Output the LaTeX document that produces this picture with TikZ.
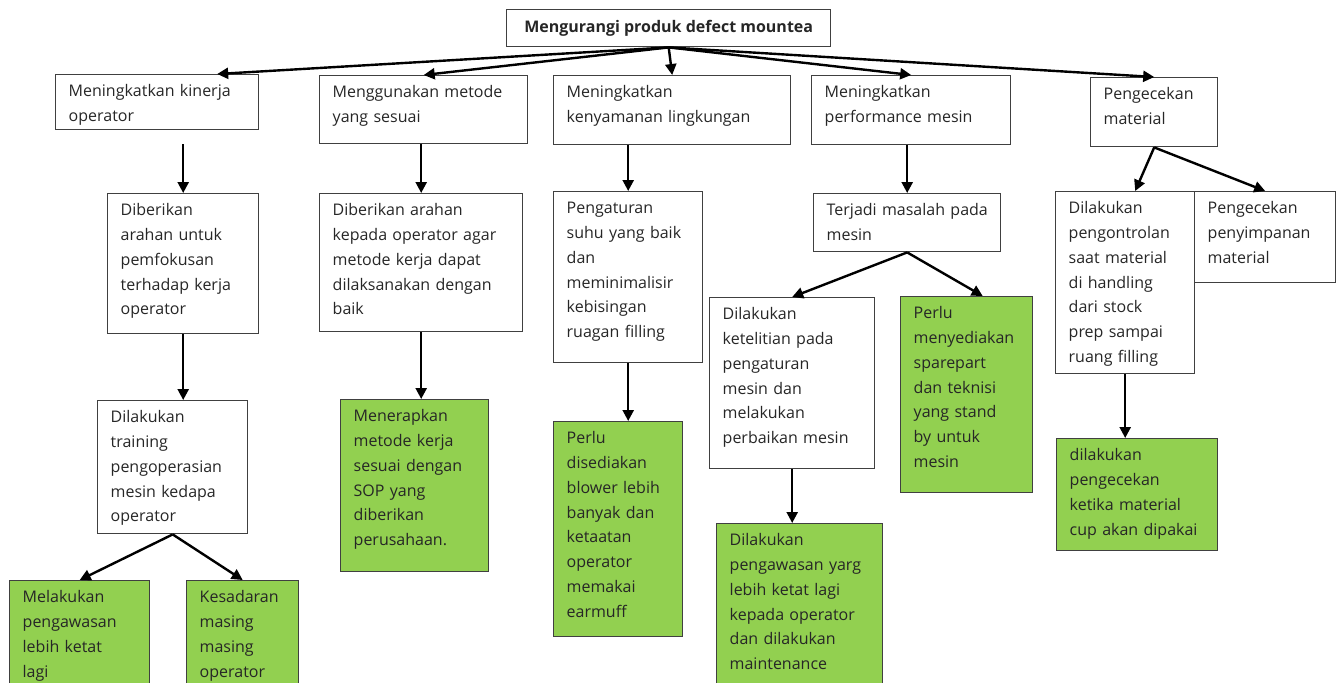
\documentclass[tikz,border=0pt]{standalone}
\usepackage{fontspec}
\setmainfont{Open Sans}
\usetikzlibrary{arrows.meta}
\definecolor{hijauexcel}{RGB}{146,208,80}

\begin{document}
\begin{tikzpicture}[
        x=0.5pt, y=-0.5pt,
        kotak/.style 2 args={draw=black!75, line width=0.7pt, anchor=north west, align=left,
            inner xsep=6.5pt, inner ysep=0pt, text height=11pt,
            text width=#1, text depth=#2, text=black!85,
            font=\fontsize{8pt}{12.4pt}\selectfont},
        hijau/.style={fill=hijauexcel},
        panah/.style={-{Triangle[length=5.5pt, width=5.5pt]}, line width=1.2pt}
    ]
        \useasboundingbox (0,0) rectangle (1340,682);
        \clip (0,0) rectangle (1340,682);

        % Tujuan utama
        \node[draw=black!75, line width=0.7pt, anchor=north west, minimum width=162pt,
            minimum height=18.5pt, inner sep=0pt, text=black!85,
            font=\bfseries\fontsize{8pt}{10pt}\selectfont] (root) at (506,9)
            {Mengurangi produk defect mountea};

        % Baris pertama
        \node[kotak={88.5pt}{16.5pt}] (a1) at (55,74) {Meningkatkan kinerja\\operator};
        \node[kotak={91pt}{23pt}] (a2) at (319,75) {Menggunakan metode\\yang sesuai};
        \node[kotak={105.5pt}{23.5pt}] (a3) at (553,75) {Meningkatkan\\kenyamanan lingkungan};
        \node[kotak={86.5pt}{23.5pt}] (a4) at (811,75) {Meningkatkan\\performance mesin};
        \node[kotak={50.5pt}{23.5pt}] (a5) at (1090,77) {Pengecekan\\material};

        % Baris kedua
        \node[kotak={62.5pt}{59pt}] (b1) at (107,193)
            {Diberikan\\arahan untuk\\pemfokusan\\terhadap kerja\\operator};
        \node[kotak={88.5pt}{58pt}] (b2) at (319,193)
            {Diberikan arahan\\kepada operator agar\\metode kerja dapat\\dilaksanakan dengan\\baik};
        \node[kotak={61.5pt}{74.5pt}] (b3) at (553,191)
            {Pengaturan\\suhu yang baik\\dan\\meminimalisir\\kebisingan\\ruagan filling};
        \node[kotak={80.5pt}{18pt}] (b4) at (813,193) {\mbox{Terjadi masalah pada}\\mesin};
        \node[kotak={56.5pt}{80pt}] (c5a) at (1055,191)
            {Dilakukan\\pengontrolan\\saat material\\di handling\\dari stock\\prep sampai\\ruang filling};
        \node[kotak={57.5pt}{34.5pt}] (c5b) at (1194,191) {Pengecekan\\penyimpanan\\material};

        % Baris ketiga
        \node[kotak={62pt}{55.5pt}] (c1) at (97,400)
            {Dilakukan\\training\\pengoperasian\\mesin kedapa\\operator};
        \node[kotak={61pt}{75pt}, hijau] (c2) at (340,399)
            {Menerapkan\\metode kerja\\sesuai dengan\\SOP yang\\diberikan\\perusahaan.};
        \node[kotak={51.5pt}{96.5pt}, hijau] (c3) at (553,421)
            {Perlu\\disediakan\\blower lebih\\banyak dan\\ketaatan\\operator\\memakai\\earmuff};
        \node[kotak={69.5pt}{74.5pt}] (c4a) at (709,297)
            {Dilakukan\\ketelitian pada\\pengaturan\\mesin dan\\melakukan\\perbaikan mesin};
        \node[kotak={53pt}{87pt}, hijau] (c4b) at (900,296)
            {Perlu\\menyediakan\\sparepart\\dan teknisi\\yang stand\\by untuk\\mesin};
        \node[kotak={67.5pt}{45pt}, hijau] (d5) at (1056,438)
            {dilakukan\\pengecekan\\ketika material\\cup akan dipakai};

        % Baris keempat
        \node[kotak={57pt}{54pt}, hijau] (d1a) at (9,580)
            {Melakukan\\pengawasan\\lebih ketat\\lagi};
        \node[kotak={43pt}{54pt}, hijau] (d1b) at (186,580)
            {Kesadaran\\masing\\masing\\operator};
        \node[kotak={70pt}{89pt}, hijau] (d4) at (716,523)
            {Dilakukan\\pengawasan yarg\\lebih ketat lagi\\kepada operator\\dan dilakukan\\maintenance};

        % Panah dari tujuan utama
        \draw[panah] (root.south) -- ([xshift=30pt]a1.north);
        \draw[panah] (root.south) -- (a2.north);
        \draw[panah] (root.south) -- (a3.north);
        \draw[panah] (root.south) -- (a4.north);
        \draw[panah] (root.south) -- (a5.north);

        % Panah ke bawah
        \draw[panah] (b1.north |- a1.south) ++(0,14) -- (b1.north);
        \draw[panah] (b2.north |- a2.south) -- (b2.north);
        \draw[panah] (b3.north |- a3.south) -- (b3.north);
        \draw[panah] (b4.north |- a4.south) -- (b4.north);
        \draw[panah] (a5.south) -- ([xshift=5pt]c5a.north);
        \draw[panah] (a5.south) -- (c5b.north);
        \draw[panah] (b1.south) -- (b1.south |- c1.north);
        \draw[panah] (b2.south) -- (b2.south |- c2.north);
        \draw[panah] (b3.south) -- (b3.south |- c3.north);
        \draw[panah] (b4.south) -- (c4a.north);
        \draw[panah] (b4.south) -- ([xshift=8pt]c4b.north);
        \draw[panah] (c5a.south) -- (c5a.south |- d5.north);
        \draw[panah] (c1.south) -- (d1a.north);
        \draw[panah] (c1.south) -- (d1b.north);
        \draw[panah] (c4a.south) -- (c4a.south |- d4.north);
    \end{tikzpicture}
\end{document}
